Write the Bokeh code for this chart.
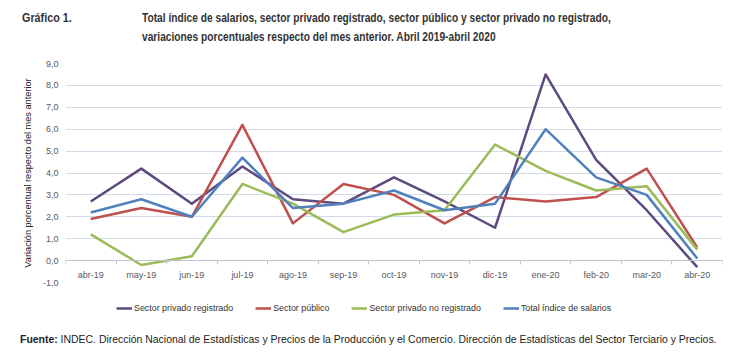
from bokeh.plotting import figure
from bokeh.models import Range1d, FixedTicker, Legend, LegendItem, Div
from bokeh.layouts import column
from bokeh.embed import file_html
from bokeh.resources import INLINE

months = ["abr-19", "may-19", "jun-19", "jul-19", "ago-19", "sep-19", "oct-19",
          "nov-19", "dic-19", "ene-20", "feb-20", "mar-20", "abr-20"]
privado_registrado = [2.7, 4.2, 2.6, 4.3, 2.8, 2.6, 3.8, 2.7, 1.5, 8.5, 4.6, 2.3, -0.3]
sector_publico = [1.9, 2.4, 2.0, 6.2, 1.7, 3.5, 3.0, 1.7, 2.9, 2.7, 2.9, 4.2, 0.6]
privado_no_registrado = [1.2, -0.2, 0.2, 3.5, 2.6, 1.3, 2.1, 2.3, 5.3, 4.1, 3.2, 3.4, 0.5]
total_indice = [2.2, 2.8, 2.0, 4.7, 2.4, 2.6, 3.2, 2.3, 2.6, 6.0, 3.8, 3.0, 0.1]
series_names = ["Sector privado registrado", "Sector público",
                "Sector privado no registrado", "Total índice de salarios"]
series_values = [privado_registrado, sector_publico, privado_no_registrado, total_indice]
colors = ["#5E4A7E", "#C0504D", "#9BBB59", "#4F81BD"]
y_ticks = [-1, 0, 1, 2, 3, 4, 5, 6, 7, 8, 9]

title_label = "Gráfico 1."
title_line1 = "Total índice de salarios, sector privado registrado, sector público y sector privado no registrado,"
title_line2 = "variaciones porcentuales respecto del mes anterior. Abril 2019-abril 2020"
y_title = "Variación porcentual respecto del mes anterior"
source_bold = "Fuente:"
source_text = ("INDEC. Dirección Nacional de Estadísticas y Precios de la Producción y el Comercio. "
               "Dirección de Estadísticas del Sector Terciario y Precios.")

W = 730
HEAD_H = 50
SRC_H = 26
L, R, T, B = 65, 8, 13, 8
FIG_H = T + 219 + B
LEG_H = 354 - HEAD_H - SRC_H - FIG_H
x_idx = list(range(len(months)))

head = Div(width=W, height=HEAD_H, margin=(0, 0, 0, 0), text=(
    f'<div style="position:relative;width:{W}px;height:{HEAD_H}px;'
    "font-family:'Liberation Sans', Arial, sans-serif;"
    'font-weight:bold;font-size:13px;color:#333333;">'
    f'<span style="position:absolute;left:22px;top:8px;line-height:19px;white-space:nowrap;'
    f'transform:scaleX(0.83);transform-origin:0 0;">{title_label}</span>'
    f'<span style="position:absolute;left:142px;top:8px;line-height:19px;white-space:nowrap;'
    f'transform:scaleX(0.785);transform-origin:0 0;">'
    f'{title_line1}<br>{title_line2}</span></div>'))

src = Div(width=W, height=SRC_H, margin=(0, 0, 0, 0), text=(
    f'<div style="position:relative;width:{W}px;height:{SRC_H}px;'
    "font-family:'Liberation Sans', Arial, sans-serif;"
    'font-size:10.45px;color:#222222;">'
    f'<span style="position:absolute;left:20px;top:5px;white-space:nowrap;">'
    f'<b>{source_bold}</b> {source_text}</span></div>'))

# main chart
p = figure(width=W, height=FIG_H, output_backend="svg", toolbar_location=None,
           x_range=Range1d(-0.5, len(months) - 0.5), y_range=Range1d(-1, 9),
           min_border_left=L, min_border_right=R, min_border_top=T,
           min_border_bottom=B, margin=(0, 0, 0, 0))
p.outline_line_color = None
p.background_fill_color = "white"
p.border_fill_color = "white"

p.xgrid.grid_line_color = None
p.ygrid.ticker = FixedTicker(ticks=y_ticks)
p.ygrid.grid_line_color = "#D3DBE8"
p.ygrid.grid_line_width = 1

p.yaxis.ticker = FixedTicker(ticks=y_ticks)
p.yaxis.major_label_overrides = {t: f"{t:.1f}".replace(".", ",") for t in y_ticks}
p.yaxis.axis_line_color = None
p.yaxis.major_tick_line_color = None
p.yaxis.major_tick_out = 0
p.yaxis.major_tick_in = 0
p.yaxis.minor_tick_line_color = None
p.yaxis.major_label_text_font = "Liberation Sans"
p.yaxis.major_label_text_font_size = "9px"
p.yaxis.major_label_text_color = "#595959"
p.yaxis.major_label_standoff = 7
p.yaxis.axis_label = y_title
p.yaxis.axis_label_text_font = "Liberation Sans"
p.yaxis.axis_label_text_font_size = "9.2px"
p.yaxis.axis_label_text_font_style = "normal"
p.yaxis.axis_label_text_color = "#222222"
p.yaxis.axis_label_standoff = 7

p.xaxis.fixed_location = 0
p.xaxis.ticker = FixedTicker(ticks=x_idx, minor_ticks=[i - 0.5 for i in range(len(months) + 1)])
p.xaxis.major_label_overrides = {i: m for i, m in enumerate(months)}
p.xaxis.axis_line_color = "#BFC5CF"
p.xaxis.major_tick_line_color = None
p.xaxis.major_tick_out = 0
p.xaxis.major_tick_in = 0
p.xaxis.minor_tick_line_color = "#BFC5CF"
p.xaxis.minor_tick_in = 0
p.xaxis.minor_tick_out = 4
p.xaxis.major_label_text_font = "Liberation Sans"
p.xaxis.major_label_text_font_size = "9px"
p.xaxis.major_label_text_color = "#595959"
p.xaxis.major_label_standoff = 5

for name, vals, c in zip(series_names, series_values, colors):
    p.line(x_idx, vals, line_color=c, line_width=2.5, line_join="round")

# legend strip
leg = figure(width=W, height=LEG_H, output_backend="svg", toolbar_location=None,
             x_axis_location=None, y_axis_location=None,
             x_range=Range1d(-0.5, len(months) - 0.5), y_range=Range1d(-1, 9),
             min_border=0, margin=(0, 0, 0, 0))
leg.outline_line_color = None
leg.grid.visible = False
leg.background_fill_color = "white"
leg.border_fill_color = "white"
items = []
for name, vals, c in zip(series_names, series_values, colors):
    r = leg.line(x_idx, vals, line_color=c, line_width=2.5, visible=False)
    items.append(LegendItem(label=name, renderers=[r]))
legend = Legend(items=items, orientation="horizontal", location=(51, 15),
                glyph_width=16, glyph_height=10, label_standoff=2, spacing=22,
                label_text_font="Liberation Sans", label_text_font_size="8.9px",
                label_text_color="#333333", border_line_color=None,
                background_fill_alpha=0, padding=0, margin=0, click_policy="none")
leg.add_layout(legend, "center")

layout = column(head, p, leg, src, spacing=0, margin=(0, 0, 0, 0))
open("out.html", "w").write(file_html(layout, INLINE))
